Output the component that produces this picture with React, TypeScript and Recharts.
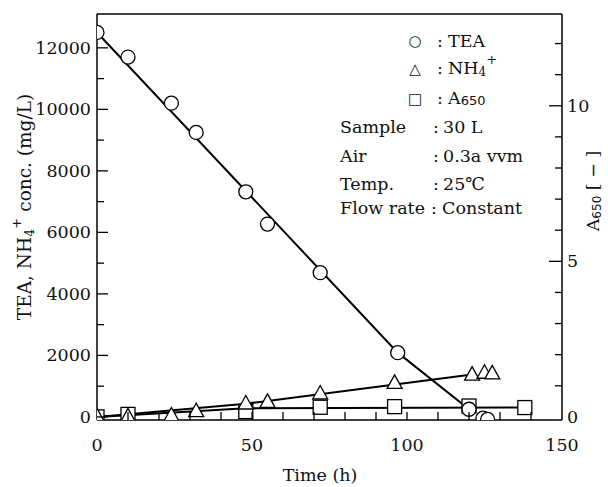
import React from "react";
import { ComposedChart, Line, Scatter, XAxis, YAxis, ReferenceLine } from "recharts";

const FONT = "'DejaVu Serif', serif";
const FS = 17.5;

// TEA (circles), mg/L
const teaTime = [0, 10, 24, 32, 48, 55, 72, 97, 120, 124.5, 126];
const teaConc = [12500, 11700, 10200, 9250, 7320, 6270, 4690, 2090, 250, -40, -80];
// TEA drawn line
const teaLineTime = [0, 97, 120];
const teaLineConc = [12500, 2090, 250];

// NH4+ (triangles), mg/L
const nh4Time = [0, 10, 24, 32, 48, 55, 72, 96, 121, 125, 127.5];
const nh4Conc = [0, 0, 30, 170, 420, 475, 745, 1090, 1360, 1420, 1400];
const nh4LineTime = [0, 48, 121];
const nh4LineConc = [0, 430, 1380];

// A650 (squares)
const a650Time = [0, 10, 48, 72, 96, 120, 138];
const a650Val = [0, 0.08, 0.17, 0.31, 0.33, 0.35, 0.3];
const a650LineTime = [0, 48, 138];
const a650LineVal = [0, 0.28, 0.3];

// axes
const xTicks = [0, 10, 20, 30, 40, 50, 60, 70, 80, 90, 100, 110, 120, 130, 140, 150];
const xLabelTicks = [0, 50, 100, 150];
const leftTicks = [0, 1000, 2000, 3000, 4000, 5000, 6000, 7000, 8000, 9000, 10000, 11000, 12000];
const leftLabelTicks = [0, 2000, 4000, 6000, 8000, 10000, 12000];
const rightTicks = [0, 1, 2, 3, 4, 5, 6, 7, 8, 9, 10, 11, 12];
const rightLabelTicks = [0, 5, 10];
const leftDomain = [-100, 13100];
const rightDomain = [-0.1, 12.95];
const xDomain = [0, 150];

const zip = (ts: number[], vs: number[], key: string) => ts.map((t, i) => ({ t, [key]: vs[i] }));

const teaPts = zip(teaTime, teaConc, "v");
const teaLine = zip(teaLineTime, teaLineConc, "v");
const nh4Pts = zip(nh4Time, nh4Conc, "v");
const nh4Line = zip(nh4LineTime, nh4LineConc, "v");
const a650Pts = zip(a650Time, a650Val, "v");
const a650Line = zip(a650LineTime, a650LineVal, "v");

const textStyle = { fontFamily: FONT, fontSize: FS, fill: "#111" };

const BottomTick = (props: any) => {
  const { x, y, payload } = props;
  const v = payload.value;
  const major = xLabelTicks.includes(v);
  return (
    <g>
      {v !== 0 && v !== 150 && (
        <line x1={x} y1={y} x2={x} y2={y - 8} stroke="#000" strokeWidth={1.3} />
      )}
      {major && (
        <text x={x} y={y + 31} textAnchor="middle" style={textStyle}>
          {v}
        </text>
      )}
    </g>
  );
};

const LeftTick = (props: any) => {
  const { x, y, payload } = props;
  const v = payload.value;
  const major = leftLabelTicks.includes(v);
  return (
    <g>
      <line x1={x} y1={y} x2={x + (major ? 11 : 7)} y2={y} stroke="#000" strokeWidth={1.3} />
      {major && (
        <text x={x - 6} y={y + 6} textAnchor="end" style={textStyle}>
          {v}
        </text>
      )}
    </g>
  );
};

const RightTick = (props: any) => {
  const { x, y, payload } = props;
  const v = payload.value;
  const major = rightLabelTicks.includes(v);
  return (
    <g>
      {v !== 0 && <line x1={x} y1={y} x2={x - (major ? 13 : 7)} y2={y} stroke="#000" strokeWidth={1.3} />}
      {major && (
        <text x={x + 5} y={y + 6} textAnchor="start" style={textStyle}>
          {v}
        </text>
      )}
    </g>
  );
};

const CircleShape = (p: any) => (
  <circle cx={p.cx} cy={p.cy} r={7} fill="#fff" stroke="#000" strokeWidth={1.3} />
);
const TriangleShape = (p: any) => (
  <polygon
    points={`${p.cx},${p.cy - 8.5} ${p.cx - 7.5},${p.cy + 5} ${p.cx + 7.5},${p.cy + 5}`}
    fill="#fff"
    stroke="#000"
    strokeWidth={1.3}
  />
);
const SquareShape = (p: any) => (
  <rect x={p.cx - 7} y={p.cy - 7} width={14} height={14} fill="#fff" stroke="#000" strokeWidth={1.3} />
);

const symStyle = { fontFamily: "'DejaVu Sans', sans-serif", fontSize: 15, fill: "#111" };

export default function App() {
  return (
    <div style={{ position: "absolute", left: 0, top: 0, width: 608, height: 487, background: "#fff" }}>
      <ComposedChart width={608} height={487} margin={{ top: 14, right: 6, bottom: 27, left: 37 }}>
        <XAxis
          type="number"
          dataKey="t"
          domain={xDomain}
          ticks={xTicks}
          interval={0}
          tickSize={0}
          tickMargin={0}
          tickLine={false}
          tick={<BottomTick />}
          axisLine={{ stroke: "#000", strokeWidth: 1.5 }}
          height={40}
          allowDataOverflow
        />
        <YAxis
          yAxisId="left"
          type="number"
          domain={leftDomain}
          ticks={leftTicks}
          interval={0}
          tickSize={0}
          tickMargin={0}
          tickLine={false}
          tick={<LeftTick />}
          axisLine={{ stroke: "#000", strokeWidth: 1.5 }}
          width={60}
          allowDataOverflow
        />
        <YAxis
          yAxisId="right"
          orientation="right"
          type="number"
          domain={rightDomain}
          ticks={rightTicks}
          interval={0}
          tickSize={0}
          tickMargin={0}
          tickLine={false}
          tick={<RightTick />}
          axisLine={{ stroke: "#000", strokeWidth: 1.5 }}
          width={40}
          allowDataOverflow
        />
        <ReferenceLine yAxisId="left" y={13100} stroke="#000" strokeWidth={1.5} ifOverflow="extendDomain" />
        <Line yAxisId="right" data={a650Line} dataKey="v" stroke="#000" strokeWidth={2} dot={false} isAnimationActive={false} />
        <Line yAxisId="left" data={nh4Line} dataKey="v" stroke="#000" strokeWidth={2} dot={false} isAnimationActive={false} />
        <Line yAxisId="left" data={teaLine} dataKey="v" stroke="#000" strokeWidth={2} dot={false} isAnimationActive={false} />
        <Scatter yAxisId="right" data={a650Pts} dataKey="v" shape={SquareShape} isAnimationActive={false} />
        <Scatter yAxisId="left" data={nh4Pts} dataKey="v" shape={TriangleShape} isAnimationActive={false} />
        <Scatter yAxisId="left" data={teaPts} dataKey="v" shape={CircleShape} isAnimationActive={false} />
      </ComposedChart>
      <svg
        width={608}
        height={487}
        style={{ position: "absolute", left: 0, top: 0, pointerEvents: "none" }}
      >
        {/* left axis title */}
        <text transform="translate(31,207) rotate(-90)" textAnchor="middle" style={{ ...textStyle, fontSize: 18.5 }}>
          TEA, NH<tspan fontSize={12.5} dy={3}>4</tspan>
          <tspan fontSize={13.5} dy={-13}>+</tspan>
          <tspan dy={10}> conc. (mg/L)</tspan>
        </text>
        {/* right axis title */}
        <text transform="translate(599,191) rotate(-90)" textAnchor="middle" style={textStyle}>
          A<tspan fontFamily="'DejaVu Sans', sans-serif" fontSize={12} dy={2}>650</tspan>
          <tspan dy={-2}> [ − ]</tspan>
        </text>
        {/* x axis title */}
        <text x={320} y={481} textAnchor="middle" style={textStyle}>
          Time (h)
        </text>
        {/* legend */}
        <g>
          <text x={415} y={46} textAnchor="middle" style={symStyle}>○</text>
          <text x={440} y={47} textAnchor="middle" style={textStyle}>:</text>
          <text x={448} y={47} style={textStyle}>TEA</text>

          <text x={415} y={74} textAnchor="middle" style={symStyle}>△</text>
          <text x={440} y={74} textAnchor="middle" style={textStyle}>:</text>
          <text x={448} y={74} style={textStyle}>
            NH<tspan fontSize={12} dy={2}>4</tspan>
            <tspan fontSize={13} dy={-12}>+</tspan>
          </text>

          <text x={415} y={104} textAnchor="middle" style={symStyle}>□</text>
          <text x={440} y={104} textAnchor="middle" style={textStyle}>:</text>
          <text x={448} y={104} style={textStyle}>
            A<tspan fontFamily="'DejaVu Sans', sans-serif" fontSize={13} dy={1}>650</tspan>
          </text>

          <text x={340} y={133} style={textStyle}>Sample</text>
          <text x={436} y={133} textAnchor="middle" style={textStyle}>:</text>
          <text x={443} y={133} style={textStyle}>30 L</text>

          <text x={340} y={162} style={textStyle}>Air</text>
          <text x={436} y={162} textAnchor="middle" style={textStyle}>:</text>
          <text x={443} y={162} style={textStyle}>0.3a vvm</text>

          <text x={340} y={190} style={textStyle}>Temp.</text>
          <text x={436} y={190} textAnchor="middle" style={textStyle}>:</text>
          <text x={443} y={190} style={textStyle}>25℃</text>

          <text x={340} y={214} style={textStyle}>Flow rate</text>
          <text x={434} y={214} textAnchor="middle" style={textStyle}>:</text>
          <text x={442} y={214} style={textStyle}>Constant</text>
        </g>
      </svg>
    </div>
  );
}
